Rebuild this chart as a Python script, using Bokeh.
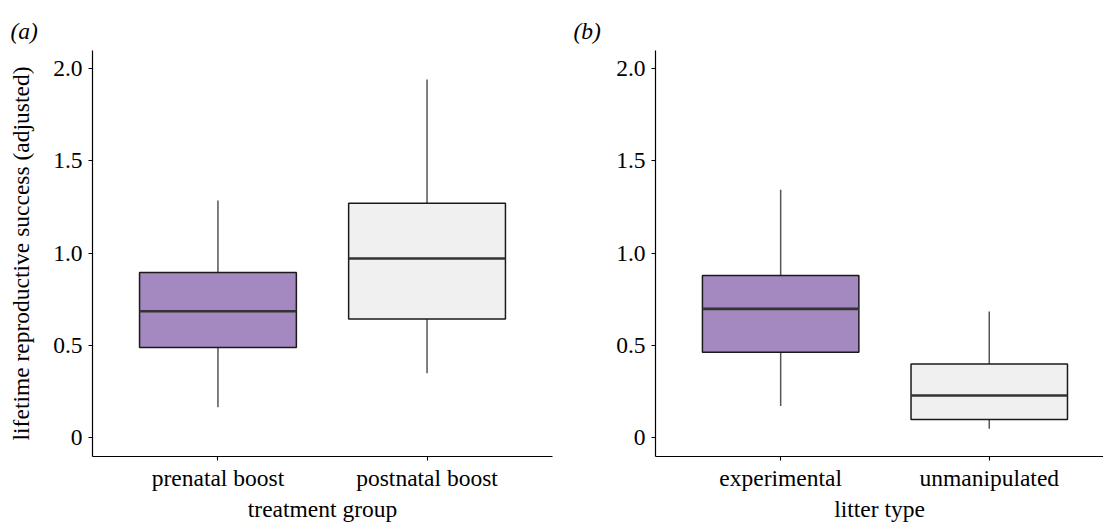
from bokeh.plotting import figure
from bokeh.layouts import row
from bokeh.models import Range1d, FixedTicker, Title, ColumnDataSource
from bokeh.embed import file_html
from bokeh.resources import INLINE

# ---- data ----
groups_a = ["prenatal boost", "postnatal boost"]
wmin_a = [0.166, 0.35]
q1_a = [0.489, 0.644]
med_a = [0.685, 0.971]
q3_a = [0.895, 1.27]
wmax_a = [1.285, 1.94]

groups_b = ["experimental", "unmanipulated"]
wmin_b = [0.173, 0.049]
q1_b = [0.463, 0.099]
med_b = [0.698, 0.229]
q3_b = [0.879, 0.40]
wmax_b = [1.343, 0.684]

fills = ["#A488C0", "#F0F0F0"]
y_ticks = [0, 0.5, 1.0, 1.5, 2.0]
y_tick_labels = ["0", "0.5", "1.0", "1.5", "2.0"]

FONT = "Liberation Serif"
FS = "23.5px"
BOX_W = 0.75


def make_panel(groups, wmin, q1, med, q3, wmax, xlabel, ylabel, panel_tag,
               frame_w, border_l, border_r, x_end):
    pos = [i + 1 for i in range(len(groups))]
    src = ColumnDataSource(dict(
        x=pos, wmin=wmin, q1=q1, med=med, q3=q3, wmax=wmax,
        x0=[p - BOX_W / 2 for p in pos], x1=[p + BOX_W / 2 for p in pos],
        fill=fills[:len(groups)],
    ))
    title = Title(text=panel_tag[0], align="left", offset=panel_tag[1],
                  standoff=panel_tag[2], vertical_align="top",
                  text_font=FONT, text_font_size=FS,
                  text_font_style="italic", text_color="black")
    p = figure(frame_width=frame_w, frame_height=406,
               min_border_left=border_l, min_border_right=border_r,
               min_border_top=50, min_border_bottom=68,
               x_range=Range1d(0.4, x_end), y_range=Range1d(-0.101, 2.097),
               output_backend="svg", toolbar_location=None,
               background_fill_color="white", border_fill_color="white",
               title=title)
    p.outline_line_color = None
    p.grid.visible = False

    # whiskers
    p.segment(x0="x", x1="x", y0="q3", y1="wmax", source=src,
              line_color="#555555", line_width=1.5)
    p.segment(x0="x", x1="x", y0="q1", y1="wmin", source=src,
              line_color="#555555", line_width=1.5)
    # boxes
    p.vbar(x="x", width=BOX_W, bottom="q1", top="q3", source=src,
           fill_color="fill", line_color="#1a1a1a", line_width=1.5)
    # medians
    p.segment(x0="x0", x1="x1", y0="med", y1="med", source=src,
              line_color="#333333", line_width=2.6)

    for ax in (p.xaxis[0], p.yaxis[0]):
        ax.axis_line_color = "black"
        ax.axis_line_width = 1.2
        ax.major_tick_line_color = "black"
        ax.major_tick_line_width = 1.1
        ax.major_tick_in = 0
        ax.major_tick_out = 4
        ax.minor_tick_line_color = None
        ax.major_label_text_font = FONT
        ax.major_label_text_font_size = FS
        ax.major_label_text_color = "black"
        ax.axis_label_text_font = FONT
        ax.axis_label_text_font_size = FS
        ax.axis_label_text_font_style = "normal"
        ax.axis_label_text_color = "black"

    p.xaxis.ticker = FixedTicker(ticks=pos)
    p.xaxis.major_label_overrides = {pp: g for pp, g in zip(pos, groups)}
    p.xaxis.axis_label = xlabel
    p.xaxis.major_label_standoff = 4
    p.xaxis.axis_label_standoff = 2

    p.yaxis.ticker = FixedTicker(ticks=y_ticks)
    p.yaxis.major_label_overrides = {t: l for t, l in zip(y_ticks, y_tick_labels)}
    p.yaxis.major_label_standoff = 6
    if ylabel:
        p.yaxis.axis_label = ylabel
        p.yaxis.axis_label_standoff = 16
    return p


p1 = make_panel(groups_a, wmin_a, q1_a, med_a, q3_a, wmax_a,
                "treatment group", "lifetime reproductive success (adjusted)",
                ("(a)", -82, 10), 460, 92, 8, 2.6)
p2 = make_panel(groups_b, wmin_b, q1_b, med_b, q3_b, wmax_b,
                "litter type", None,
                ("(b)", -82, 10), 448, 95, 0, 0.4 + 448 / 208.6)

layout = row(p1, p2)
open("out.html", "w").write(file_html(layout, INLINE))
